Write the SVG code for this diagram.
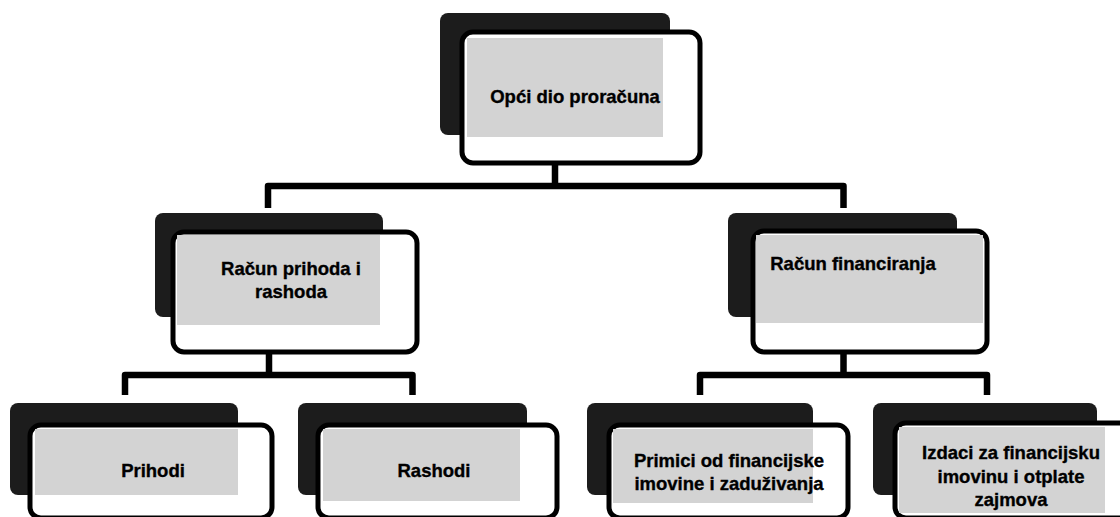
<svg xmlns="http://www.w3.org/2000/svg" width="1120" height="517" viewBox="0 0 1120 517">
<style>
.back{fill:#1c1c1c;}
.front{fill:#ffffff;stroke:#000;stroke-width:5;}
.grey{fill:#d3d3d3;}
.lbl{font-family:"Liberation Sans",Arial,sans-serif;font-weight:bold;font-size:18.5px;fill:#000;stroke:#000;stroke-width:0.35;text-anchor:middle;}
.conn{fill:none;stroke:#000;stroke-width:6.5;stroke-linejoin:round;stroke-linecap:butt;}
</style>
<rect width="1120" height="517" fill="#fff"/>
<g id="connectors">
<path class="conn" d="M555,163 V186 M268,208 V186 H843.5 V208"/>
<path class="conn" d="M269,352 V375 M125,395 V375 H412.5 V395"/>
<path class="conn" d="M843.5,352 V375 M700,395 V375 H987 V395"/>
</g>
<g id="node-opci">
<rect class="back" x="440" y="13" width="230" height="122" rx="8"/>
<rect class="front" x="462" y="32" width="238" height="131" rx="11"/>
<rect class="grey" x="467" y="38" width="196" height="99"/>
<text class="lbl" x="575" y="103">Opći dio proračuna</text>
</g>
<g id="node-racun-prihoda">
<rect class="back" x="155" y="213" width="228" height="104" rx="8"/>
<rect class="front" x="173" y="232" width="244" height="120" rx="11"/>
<rect class="grey" x="177" y="235" width="203" height="90"/>
<text class="lbl" x="291" y="275">Račun prihoda i</text>
<text class="lbl" x="291" y="298">rashoda</text>
</g>
<g id="node-racun-financiranja">
<rect class="back" x="728" y="213" width="229" height="104" rx="8"/>
<rect class="front" x="753" y="231" width="234" height="121" rx="11"/>
<rect class="grey" x="756" y="235" width="227" height="88"/>
<text class="lbl" x="853" y="270">Račun financiranja</text>
</g>
<g id="node-prihodi">
<rect class="back" x="10" y="403" width="228" height="92" rx="8"/>
<rect class="front" x="30" y="425" width="242" height="93" rx="11"/>
<rect class="grey" x="35" y="429" width="203" height="66"/>
<text class="lbl" x="153" y="477">Prihodi</text>
</g>
<g id="node-rashodi">
<rect class="back" x="298" y="403" width="229" height="92" rx="8"/>
<rect class="front" x="318" y="425" width="239" height="93" rx="11"/>
<rect class="grey" x="323" y="429" width="197" height="72"/>
<text class="lbl" x="434" y="477">Rashodi</text>
</g>
<g id="node-primici">
<rect class="back" x="587" y="403" width="226" height="92" rx="8"/>
<rect class="front" x="609" y="425" width="239" height="93" rx="11"/>
<rect class="grey" x="613" y="429" width="200" height="74"/>
<text class="lbl" x="729" y="467">Primici od financijske</text>
<text class="lbl" x="729" y="490">imovine i zaduživanja</text>
</g>
<g id="node-izdaci">
<rect class="back" x="873" y="403" width="224" height="92" rx="8"/>
<rect class="front" x="895" y="423" width="240" height="95" rx="11"/>
<rect class="grey" x="899" y="427" width="206" height="86"/>
<text class="lbl" x="1011" y="459">Izdaci za financijsku</text>
<text class="lbl" x="1011" y="483">imovinu i otplate</text>
<text class="lbl" x="1011" y="506">zajmova</text>
</g>
</svg>
